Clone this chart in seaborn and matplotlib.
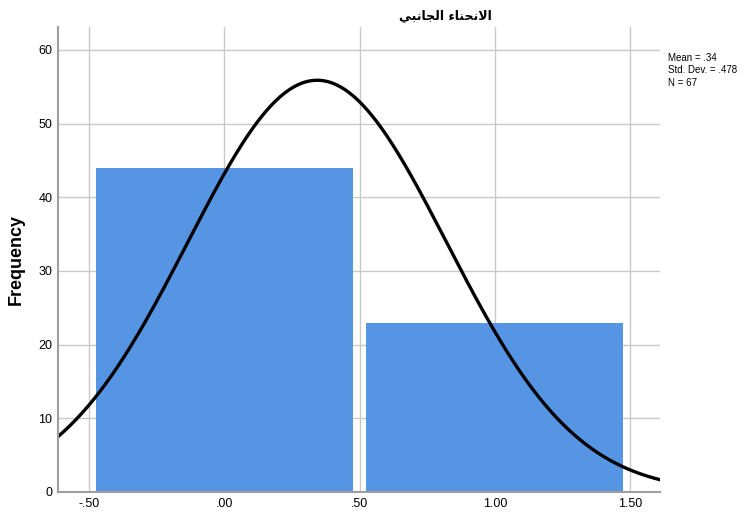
import numpy as np
import pandas as pd
import matplotlib
matplotlib.use("Agg")
import matplotlib.pyplot as plt
import seaborn as sns

# Frequency table of the variable (coded 0 / 1)
categories = [0, 1]
counts = [44, 23]
tick_values = [-0.5, 0.0, 0.5, 1.0, 1.5]
tick_labels = ["-.50", ".00", ".50", "1.00", "1.50"]
y_ticks = [0, 10, 20, 30, 40, 50, 60]
title_text = "الانحناء الجانبي"

values = np.repeat(categories, counts)
df = pd.DataFrame({"v": values})
n = len(values)
mean = values.mean()
sd = values.std(ddof=1)

# --- minimal Arabic shaping (contextual forms + RTL order) ---
FORMS = {  # isolated, final, initial, medial
    "ا": ("\ufe8d", "\ufe8e", None, None),
    "ل": ("\ufedd", "\ufede", "\ufedf", "\ufee0"),
    "ن": ("\ufee5", "\ufee6", "\ufee7", "\ufee8"),
    "ح": ("\ufea1", "\ufea2", "\ufea3", "\ufea4"),
    "ج": ("\ufe9d", "\ufe9e", "\ufe9f", "\ufea0"),
    "ب": ("\ufe8f", "\ufe90", "\ufe91", "\ufe92"),
    "ي": ("\ufef1", "\ufef2", "\ufef3", "\ufef4"),
    "ء": ("\ufe80", None, None, None),
}


def joins_left(ch):
    return ch in FORMS and FORMS[ch][2] is not None


def shape_word(word):
    out = []
    i = 0
    while i < len(word):
        ch = word[i]
        prev_joins = i > 0 and joins_left(word[i - 1])
        if ch == "ل" and i + 1 < len(word) and word[i + 1] == "ا":
            out.append("\ufefc" if prev_joins else "\ufefb")
            i += 2
            continue
        nxt = word[i + 1] if i + 1 < len(word) else None
        next_joins = nxt is not None and nxt in FORMS and joins_left(ch)
        iso, fin, ini, med = FORMS[ch]
        if prev_joins and next_joins:
            g = med
        elif prev_joins:
            g = fin or iso
        elif next_joins:
            g = ini
        else:
            g = iso
        out.append(g)
        i += 1
    return "".join(out)


def shape(text):
    words = [shape_word(w) for w in text.split(" ")]
    return " ".join(w[::-1] for w in reversed(words))


sns.set_theme(style="white")
plt.rcParams["font.family"] = ["Liberation Sans", "DejaVu Sans"]

fig = plt.figure(figsize=(7.49, 5.21), dpi=100)
ax = fig.add_axes([58 / 749, 29 / 521, 602 / 749, 465 / 521])

ax.set_axisbelow(True)
ax.grid(True, color="#c9c9c9", linewidth=1.0)

sns.histplot(data=df, x="v", discrete=True, shrink=0.95, stat="count",
             color="#5595e4", alpha=1.0, edgecolor="none", linewidth=0, ax=ax)

x_lo, x_hi = -0.615, 1.611
xs = np.linspace(x_lo, x_hi, 400)
ys = n * 1.0 / (sd * np.sqrt(2 * np.pi)) * np.exp(-0.5 * ((xs - mean) / sd) ** 2)
sns.lineplot(x=xs, y=ys, color="black", linewidth=2.4, ax=ax)

ax.set_xlim(x_lo, x_hi)
ax.set_ylim(0, 63.1)
ax.set_xticks(tick_values)
ax.set_xticklabels(tick_labels)
ax.set_yticks(y_ticks)
ax.tick_params(axis="both", length=0, labelsize=9, colors="black", pad=4)
ax.set_xlabel("")
ax.set_ylabel("Frequency", fontsize=13, fontweight="bold", labelpad=10,
              color="black")

for side in ("top", "right"):
    ax.spines[side].set_visible(False)
for side in ("left", "bottom"):
    ax.spines[side].set_color("#9e9e9e")
    ax.spines[side].set_linewidth(1.5)

fig.text(445 / 749, 1 - 16 / 521, shape(title_text), ha="center", va="center",
         fontsize=9, fontweight="bold", family=["DejaVu Sans"], color="black")

stats = f"Mean = {mean:.2f}".replace("0.", ".") + "\n" + \
        f"Std. Dev. = {sd:.3f}".replace("0.", ".") + "\n" + f"N = {n}"
fig.text(668 / 749, 1 - 53 / 521, stats, ha="left", va="top",
         fontsize=7, linespacing=1.3, color="black")

fig.savefig("out.png", dpi=100)
